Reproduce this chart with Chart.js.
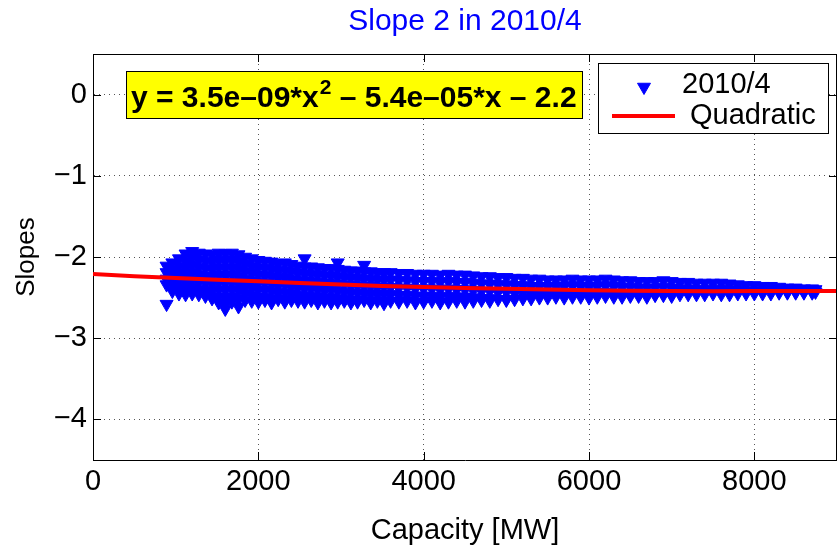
<!DOCTYPE html>
<html>
<head>
<meta charset="utf-8">
<script src="https://cdn.jsdelivr.net/npm/chart.js@4"></script>
<style>
    html, body { margin: 0; padding: 0; background: #fff; }
    #wrap { width: 837px; height: 548px; }
</style>
</head>
<body>
<div id="wrap"><canvas id="slopeChart"></canvas></div>
<script>
// capacity columns (MW) and the slopes at each of them
const capacityMW = [
    890, 960, 1040, 1120, 1200, 1280, 1360, 1440, 1520, 1600,
    1680, 1760, 1840, 1920, 2000, 2080, 2160, 2240, 2320, 2400,
    2480, 2560, 2640, 2720, 2800, 2880, 2960, 3040, 3120, 3200,
    3280, 3360, 3440, 3520, 3600, 3700, 3800, 3900, 4000, 4100,
    4200, 4300, 4400, 4500, 4600, 4700, 4800, 4900, 5000, 5100,
    5200, 5300, 5400, 5500, 5600, 5700, 5800, 5900, 6000, 6100,
    6200, 6300, 6400, 6500, 6600, 6700, 6800, 6900, 7000, 7100,
    7200, 7300, 7400, 7500, 7600, 7700, 7800, 7900, 8000, 8100,
    8200, 8300, 8400, 8500, 8600, 8700, 8740,
];
const slopes = [
    [-2.11, -2.19, -2.27, -2.34, -2.58],
    [-2.07, -2.16, -2.25, -2.34, -2.42],
    [-2.02, -2.11, -2.20, -2.29, -2.38, -2.45],
    [-1.96, -2.05, -2.14, -2.23, -2.32, -2.41, -2.46],
    [-1.93, -2.01, -2.10, -2.19, -2.28, -2.37, -2.45],
    [-1.95, -2.04, -2.13, -2.22, -2.31, -2.40, -2.46],
    [-1.96, -2.05, -2.14, -2.23, -2.32, -2.41, -2.48],
    [-1.97, -2.06, -2.15, -2.24, -2.33, -2.42, -2.51],
    [-1.95, -2.04, -2.13, -2.22, -2.31, -2.40, -2.49, -2.56],
    [-1.96, -2.05, -2.14, -2.23, -2.32, -2.41, -2.50, -2.58, -2.64],
    [-1.95, -2.04, -2.13, -2.22, -2.31, -2.40, -2.49, -2.55],
    [-1.97, -2.06, -2.15, -2.24, -2.33, -2.42, -2.51, -2.61],
    [-2.00, -2.09, -2.18, -2.27, -2.36, -2.45, -2.53],
    [-2.02, -2.11, -2.20, -2.29, -2.38, -2.47, -2.54],
    [-2.04, -2.13, -2.22, -2.31, -2.40, -2.49, -2.55],
    [-2.05, -2.14, -2.23, -2.32, -2.41, -2.50, -2.53],
    [-2.06, -2.15, -2.24, -2.33, -2.42, -2.51, -2.56],
    [-2.08, -2.17, -2.26, -2.35, -2.44, -2.52],
    [-2.07, -2.16, -2.25, -2.34, -2.43, -2.52, -2.55],
    [-2.09, -2.18, -2.27, -2.36, -2.45, -2.53],
    [-2.11, -2.20, -2.29, -2.38, -2.47, -2.54],
    [-2.02, -2.12, -2.21, -2.30, -2.39, -2.48, -2.55],
    [-2.12, -2.21, -2.30, -2.39, -2.48, -2.53],
    [-2.13, -2.22, -2.31, -2.40, -2.49, -2.56],
    [-2.14, -2.23, -2.32, -2.41, -2.50, -2.54],
    [-2.14, -2.23, -2.32, -2.41, -2.50, -2.56],
    [-2.07, -2.15, -2.24, -2.33, -2.42, -2.51, -2.55],
    [-2.16, -2.25, -2.34, -2.43, -2.52, -2.54],
    [-2.17, -2.26, -2.35, -2.44, -2.53, -2.56],
    [-2.17, -2.26, -2.35, -2.44, -2.53, -2.55],
    [-2.10, -2.18, -2.27, -2.36, -2.45, -2.53],
    [-2.18, -2.27, -2.36, -2.45, -2.54, -2.56],
    [-2.19, -2.28, -2.37, -2.46, -2.54],
    [-2.19, -2.28, -2.37, -2.46, -2.55, -2.57],
    [-2.19, -2.28, -2.37, -2.46, -2.54],
    [-2.20, -2.29, -2.38, -2.47, -2.55],
    [-2.20, -2.29, -2.38, -2.47, -2.54],
    [-2.21, -2.30, -2.39, -2.48, -2.56],
    [-2.21, -2.30, -2.39, -2.48, -2.55],
    [-2.21, -2.30, -2.39, -2.48, -2.54],
    [-2.22, -2.31, -2.40, -2.49, -2.56],
    [-2.21, -2.30, -2.39, -2.48, -2.55],
    [-2.22, -2.31, -2.40, -2.49, -2.54],
    [-2.22, -2.31, -2.40, -2.49, -2.55],
    [-2.23, -2.32, -2.41, -2.50, -2.54],
    [-2.24, -2.33, -2.42, -2.51, -2.53],
    [-2.24, -2.33, -2.42, -2.51, -2.54],
    [-2.25, -2.34, -2.43, -2.52],
    [-2.25, -2.34, -2.43, -2.52, -2.53],
    [-2.26, -2.35, -2.44, -2.52],
    [-2.26, -2.35, -2.44, -2.51],
    [-2.27, -2.36, -2.45, -2.51],
    [-2.27, -2.36, -2.45, -2.50],
    [-2.28, -2.36, -2.44, -2.50],
    [-2.28, -2.36, -2.44, -2.49],
    [-2.28, -2.36, -2.44, -2.50],
    [-2.27, -2.35, -2.43, -2.49],
    [-2.28, -2.36, -2.44, -2.49],
    [-2.28, -2.36, -2.44, -2.50],
    [-2.28, -2.36, -2.44, -2.49],
    [-2.27, -2.35, -2.43, -2.48],
    [-2.28, -2.36, -2.44, -2.49],
    [-2.29, -2.37, -2.45, -2.49],
    [-2.29, -2.37, -2.45, -2.48],
    [-2.30, -2.38, -2.46, -2.48],
    [-2.30, -2.38, -2.46, -2.49],
    [-2.30, -2.38, -2.46, -2.47],
    [-2.29, -2.37, -2.45, -2.47],
    [-2.30, -2.38, -2.46, -2.48],
    [-2.31, -2.39, -2.46],
    [-2.31, -2.39, -2.46],
    [-2.32, -2.40, -2.46],
    [-2.32, -2.40, -2.46],
    [-2.32, -2.40, -2.45],
    [-2.32, -2.40, -2.46],
    [-2.33, -2.40, -2.46],
    [-2.34, -2.41, -2.45],
    [-2.35, -2.42, -2.45],
    [-2.35, -2.42, -2.45],
    [-2.36, -2.42, -2.45],
    [-2.36, -2.42, -2.45],
    [-2.37, -2.42, -2.44],
    [-2.38, -2.43, -2.44],
    [-2.38, -2.43, -2.44],
    [-2.39, -2.43, -2.44],
    [-2.39, -2.42, -2.44],
    [-2.40, -2.43],
];

// quadratic fit curve
const fitMW = [0, 1000, 2000, 3000, 4000, 5000, 6000, 7000, 8000, 9000];
const fitSlope = [-2.21, -2.26, -2.30, -2.34, -2.37, -2.39, -2.41, -2.42, -2.42, -2.42];

const xTicks = [0, 2000, 4000, 6000, 8000];
const yTicks = [-4, -3, -2, -1, 0];

const titleText = "Slope 2 in 2010/4";
const fitText = ["y = 3.5e\u201309*x", "2", " \u2013 5.4e\u201305*x \u2013 2.2"];
const seriesLabel = "2010/4";
const fitLabel = "Quadratic";

const BLUE = "#0000ff";
const RED = "#ff0000";
const FONT = "'Liberation Sans', Arial, Helvetica, sans-serif";

Chart.defaults.font.family = FONT;
Chart.defaults.color = "#000";

const points = [];
capacityMW.forEach((mw, i) => {
    slopes[i].forEach((s) => points.push({ x: mw, y: s }));
});

function minus(v) {
    return String(v).replace("-", "\u2212");
}

// title, box around the plot, inward tick marks, equation box and legend
const decorations = {
    id: "decorations",
    afterDraw(chart) {
        const ctx = chart.ctx;
        const a = chart.chartArea;
        const xs = chart.scales.x;
        const ys = chart.scales.y;
        ctx.save();

        ctx.fillStyle = BLUE;
        ctx.font = "30px " + FONT;
        ctx.textAlign = "center";
        ctx.textBaseline = "middle";
        ctx.fillText(titleText, (a.left + a.right) / 2, 22);

        ctx.strokeStyle = "#000";
        ctx.lineWidth = 1;
        ctx.beginPath();
        ctx.moveTo(a.left, a.top + 0.5);
        ctx.lineTo(a.right, a.top + 0.5);
        ctx.moveTo(a.right - 0.5, a.top);
        ctx.lineTo(a.right - 0.5, a.bottom);
        xTicks.forEach((v) => {
            const px = Math.round(xs.getPixelForValue(v)) + 0.5;
            ctx.moveTo(px, a.bottom);
            ctx.lineTo(px, a.bottom - 8);
            ctx.moveTo(px, a.top);
            ctx.lineTo(px, a.top + 8);
        });
        yTicks.forEach((v) => {
            const py = Math.round(ys.getPixelForValue(v)) + 0.5;
            ctx.moveTo(a.left, py);
            ctx.lineTo(a.left + 8, py);
            ctx.moveTo(a.right, py);
            ctx.lineTo(a.right - 8, py);
        });
        ctx.stroke();

        // equation box
        const bx = a.left + 33, by = a.top + 17;
        ctx.fillStyle = "#ffff00";
        ctx.fillRect(bx, by, 456, 47);
        ctx.strokeRect(bx + 0.5, by + 0.5, 456, 47);
        ctx.fillStyle = "#000";
        ctx.textBaseline = "alphabetic";
        ctx.textAlign = "left";
        let tx = bx + 5;
        const base = by + 36;
        ctx.font = "bold 30px " + FONT;
        ctx.fillText(fitText[0], tx, base);
        tx += ctx.measureText(fitText[0]).width + 1;
        ctx.font = "bold 21px " + FONT;
        ctx.fillText(fitText[1], tx, base - 13);
        tx += ctx.measureText(fitText[1]).width;
        ctx.font = "bold 30px " + FONT;
        ctx.fillText(fitText[2], tx, base);

        // legend
        const lx = a.right - 239, ly = a.top + 9;
        ctx.fillStyle = "#fff";
        ctx.fillRect(lx, ly, 230, 70);
        ctx.strokeRect(lx + 0.5, ly + 0.5, 230, 70);
        const scatterSet = chart.data.datasets[1];
        ctx.fillStyle = scatterSet.backgroundColor;
        ctx.strokeStyle = scatterSet.borderColor;
        Chart.helpers.drawPoint(ctx, {
            pointStyle: "triangle", rotation: 180, radius: 7.5, borderWidth: 1,
        }, lx + 46, ly + 24);
        ctx.strokeStyle = chart.data.datasets[0].borderColor;
        ctx.lineWidth = 4;
        ctx.beginPath();
        ctx.moveTo(lx + 14, ly + 53);
        ctx.lineTo(lx + 77, ly + 53);
        ctx.stroke();
        ctx.fillStyle = "#000";
        ctx.font = "29px " + FONT;
        ctx.textBaseline = "middle";
        ctx.fillText(seriesLabel, lx + 84, ly + 22);
        ctx.fillText(fitLabel, lx + 92, ly + 53);
        ctx.restore();
    },
};

new Chart(document.getElementById("slopeChart"), {
    type: "scatter",
    data: {
        datasets: [{
            type: "line",
            label: fitLabel,
            data: fitMW.map((x, i) => ({ x: x, y: fitSlope[i] })),
            borderColor: RED,
            borderWidth: 4,
            pointRadius: 0,
            tension: 0.3,
            fill: false,
            order: 0,
        }, {
            label: seriesLabel,
            data: points,
            pointStyle: "triangle",
            pointRotation: 180,
            pointRadius: 7.5,
            pointBorderWidth: 1,
            backgroundColor: BLUE,
            borderColor: BLUE,
            order: 1,
        }],
    },
    options: {
        responsive: true,
        maintainAspectRatio: false,
        animation: false,
        devicePixelRatio: 1,
        events: [],
        layout: { autoPadding: false, padding: { top: 54, left: 0, right: 0, bottom: 0 } },
        plugins: {
            legend: { display: false },
            tooltip: { enabled: false },
            title: { display: false },
        },
        scales: {
            x: {
                type: "linear",
                min: 0,
                max: 9000,
                afterBuildTicks: (s) => { s.ticks = xTicks.map((v) => ({ value: v })); },
                afterFit: (s) => { s.height = 88; s.paddingLeft = 0; s.paddingRight = 0; },
                ticks: { font: { size: 29 }, padding: 5, maxRotation: 0, autoSkip: false, callback: (v) => String(v) },
                grid: { color: "#555", lineWidth: 1, drawTicks: false },
                border: { display: true, color: "#000", width: 1, dash: [1, 4] },
                title: {
                    display: true,
                    text: "Capacity [MW]",
                    font: { size: 29 },
                    padding: { top: 0, bottom: 0 },
                },
            },
            y: {
                min: -4.5,
                max: 0.5,
                afterBuildTicks: (s) => { s.ticks = yTicks.map((v) => ({ value: v })); },
                afterFit: (s) => { s.width = 93; s.paddingTop = 0; s.paddingBottom = 0; },
                ticks: { font: { size: 29 }, padding: 6, callback: (v) => minus(v) },
                grid: { color: "#555", lineWidth: 1, drawTicks: false },
                border: { display: true, color: "#000", width: 1, dash: [1, 4] },
                title: {
                    display: true,
                    text: "Slopes",
                    font: { size: 26 },
                    padding: { top: 11, bottom: 0 },
                },
            },
        },
    },
    plugins: [decorations],
});
</script>
</body>
</html>
